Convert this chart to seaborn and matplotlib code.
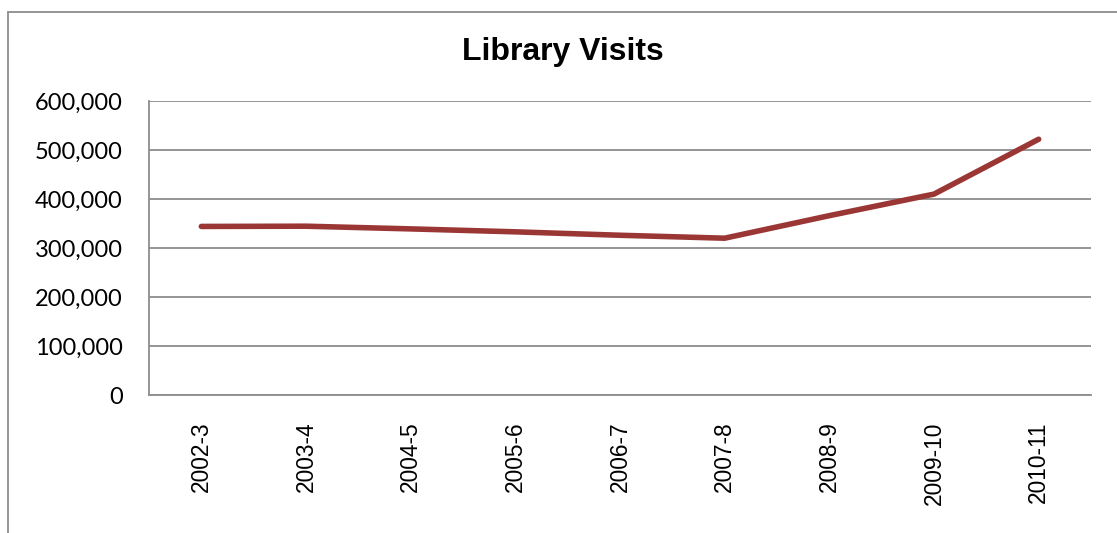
import pandas as pd
import matplotlib.pyplot as plt
import seaborn as sns
from matplotlib.lines import Line2D
from matplotlib.ticker import FuncFormatter

# === Data ===
years = ["2002-3", "2003-4", "2004-5", "2005-6", "2006-7",
         "2007-8", "2008-9", "2009-10", "2010-11"]
visits = [344000, 344500, 339000, 333000, 326000,
          320000, 366000, 410000, 522000]
y_ticks = [0, 100000, 200000, 300000, 400000, 500000, 600000]

df = pd.DataFrame({"Year": years, "Visits": visits})

# === Style ===
sns.set_style("white")
plt.rcParams["font.family"] = ["Liberation Sans", "DejaVu Sans"]
plt.rcParams["text.color"] = "black"
plt.rcParams["xtick.color"] = "black"
plt.rcParams["ytick.color"] = "black"
grid_grey = "#8c8c8c"

fig = plt.figure(figsize=(11.17, 5.33), dpi=100)
ax = fig.add_axes([149 / 1117, 138 / 533, (1091 - 149) / 1117, (395 - 101) / 533])

sns.lineplot(data=df, x="Year", y="Visits", sort=False, ax=ax,
             color="#9a3735", linewidth=4, solid_capstyle="round")

ax.set_xlim(-0.5, len(years) - 0.5)
ax.set_ylim(0, 600000)
ax.set_yticks(y_ticks)
ax.yaxis.set_major_formatter(FuncFormatter(lambda v, p: f"{int(v):,}"))
ax.grid(axis="y", color=grid_grey, linewidth=1.3)
ax.set_axisbelow(True)
ax.set_xlabel("")
ax.set_ylabel("")

ax.tick_params(axis="x", length=0, pad=19, labelsize=16.4, rotation=90,
               labelcolor="black")
ax.tick_params(axis="y", length=0, pad=19, labelcolor="black")
for lbl in ax.get_yticklabels():
    lbl.set_fontfamily(["Lato", "DejaVu Sans"])
    lbl.set_fontsize(17)

for side in ["top", "right"]:
    ax.spines[side].set_visible(False)
for side in ["left", "bottom"]:
    ax.spines[side].set_color(grid_grey)
    ax.spines[side].set_linewidth(1.3)

fig.text(563 / 1117, 1 - 52 / 533, "Library Visits", ha="center", va="center",
         fontsize=23, fontweight="bold", color="black")

# outer chart frame (left and top edges visible)
fx = 7.5 / 1117
fy = 1 - 11.5 / 533
fig.add_artist(Line2D([fx, fx], [0, fy], color=grid_grey, linewidth=1.3))
fig.add_artist(Line2D([fx, 1], [fy, fy], color=grid_grey, linewidth=1.3))

plt.savefig("out.png", dpi=100)
plt.close()
